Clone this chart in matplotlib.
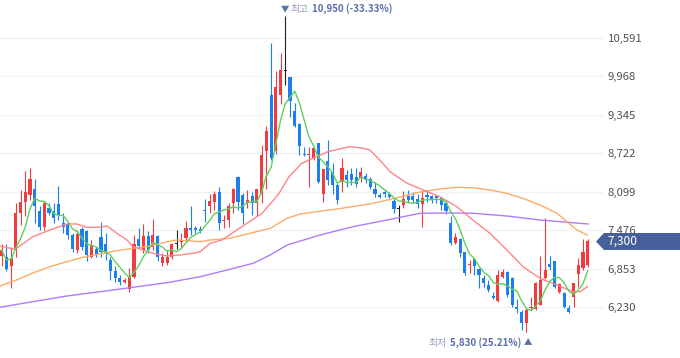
import numpy as np
import pandas as pd
import matplotlib
matplotlib.use("Agg")
import matplotlib.pyplot as plt
from matplotlib.patches import Polygon

plt.rcParams['font.family'] = ['Noto Sans CJK KR', 'DejaVu Sans']

# daily candles (oldest -> newest)
opens = [7060, 7050, 6890, 7180, 7750, 7940, 8050, 8150, 7790, 7530,
         7830, 7790, 7900, 7590, 7580, 7400, 7160, 7500, 7460, 7050,
         7170, 7360, 7250, 7000, 6820, 6710, 6640, 6520, 6720, 7330,
         7150, 7380, 7210, 7380, 6940, 6950, 7050, 7250, 7280, 7350,
         7510, 7510, 7490, 7810, 7870, 7940, 8100, 7620, 7640, 7920,
         8340, 8050, 7910, 8030, 7920, 8070, 8750, 9660, 8750, 9660,
         10050, 9950, 9400, 9190, 8710, 8690, 8640, 8880, 8070, 8590,
         8420, 8210, 8260, 8370, 8390, 8340, 8320, 8360, 8300, 8150,
         8050, 8100, 8060, 7950, 7820, 7880, 8030, 8030, 7980, 7900,
         8050, 8030, 8030, 7990, 7910, 7590, 7270, 7330, 7120, 6910,
         7010, 6850, 6700, 6590, 6410, 6330, 6720, 6800, 6700, 6230,
         6160, 5970, 6210, 6200, 6270, 6700, 6930, 6970, 6470, 6460,
         6210, 6400, 6760, 6870, 6920]
highs = [7260, 7260, 7210, 7910, 8130, 8440, 8490, 8310, 7870, 7940,
         7910, 7910, 8190, 7750, 7590, 7430, 7480, 7530, 7480, 7320,
         7210, 7610, 7430, 7050, 6890, 6750, 6700, 6860, 7400, 7510,
         7580, 7460, 7660, 7400, 7100, 7160, 7270, 7480, 7430, 7630,
         7870, 7540, 7540, 7980, 8060, 8110, 8170, 7720, 7910, 8160,
         8350, 8080, 8130, 8100, 8140, 8860, 9160, 10510, 10060, 10350,
         10950, 9960, 9530, 9210, 8830, 8830, 8830, 8890, 8470, 8940,
         8560, 8240, 8640, 8450, 8480, 8480, 8500, 8400, 8340, 8250,
         8080, 8150, 8100, 7980, 7880, 8110, 8130, 8100, 8070, 8130,
         8130, 8050, 8050, 8020, 7960, 7700, 7430, 7350, 7130, 6990,
         7020, 6860, 6750, 6670, 6480, 6830, 6850, 6820, 6720, 6370,
         6190, 6210, 6390, 6640, 7060, 7680, 7060, 6980, 6620, 6480,
         6270, 6630, 7030, 7330, 7340]
lows = [6890, 6820, 6540, 7050, 7560, 7700, 7970, 7590, 7480, 7480,
        7720, 7590, 7640, 7430, 7330, 7130, 7100, 7160, 6970, 7020,
        7050, 7050, 6990, 6670, 6640, 6590, 6620, 6480, 6700, 7180,
        7100, 7100, 7160, 6970, 6890, 6910, 7010, 7180, 7210, 7310,
        7400, 7430, 7430, 7610, 7750, 7800, 7480, 7510, 7530, 7750,
        7800, 7580, 7830, 7720, 7700, 7910, 8150, 8620, 8710, 9520,
        9830, 9300, 9150, 8690, 8670, 8180, 8610, 8235, 7940, 8210,
        8070, 7900, 8100, 8180, 8210, 8180, 8260, 8245, 8150, 8020,
        8000, 8020, 7990, 7760, 7610, 7830, 7940, 7910, 7830, 7530,
        7940, 7910, 7920, 7800, 7740, 7240, 7260, 7050, 6750, 6780,
        6750, 6540, 6560, 6480, 6360, 6320, 6700, 6400, 6240, 6130,
        5860, 5830, 6190, 6185, 6260, 6690, 6830, 6540, 6460, 6210,
        6130, 6240, 6560, 6840, 6880]
closes = [7150, 6845, 7020, 7750, 7940, 8100, 8310, 7860, 7530, 7910,
          7750, 7670, 7720, 7530, 7400, 7170, 7420, 7210, 7080, 7240,
          7080, 7130, 7100, 6820, 6700, 6640, 6670, 6720, 7260, 7220,
          7380, 7150, 7400, 7050, 7040, 7050, 7250, 7250, 7310, 7510,
          7480, 7480, 7460, 7780, 7950, 8060, 7590, 7640, 7860, 8140,
          7940, 7750, 7960, 7910, 8140, 8690, 9080, 8640, 9790, 10070,
          10050, 9560, 9160, 8840, 8690, 8710, 8800, 8260, 8460, 8290,
          8210, 7970, 8480, 8290, 8290, 8220, 8420, 8290, 8180, 8070,
          8020, 8070, 8020, 7820, 7820, 7980, 7970, 7970, 7900, 7990,
          8020, 7970, 8000, 7880, 7790, 7270, 7370, 7110, 6780, 6930,
          6900, 6750, 6620, 6510, 6380, 6750, 6800, 6430, 6270, 6200,
          5970, 6190, 6240, 6630, 6670, 6830, 6880, 6560, 6610, 6240,
          6160, 6620, 6910, 7120, 7300]

# moving averages (x in candle units, value)
ma20_x = [-0.4, 2.8, 6.6, 10.2, 13.8, 15.9, 18.0, 20.8, 22.3, 24.4, 26.5, 27.8,
          29.9, 32.0, 35.0, 37.7, 40.5, 42.0, 44.1, 46.6, 50.8, 55.1, 58.7, 60.8,
          63.5, 69.0, 73.7, 76.2, 77.9, 80.0, 82.2, 85.8, 89.2, 92.7, 96.3, 99.7,
          103.3, 106.9, 110.3, 113.9, 117.5, 120.9, 122.4, 123.9]
ma20_y = [7221, 7167, 7371, 7480, 7577, 7577, 7523, 7523, 7544, 7426, 7318, 7210,
          7156, 7102, 7059, 7075, 7102, 7129, 7264, 7318, 7533, 7750, 8073, 8342,
          8559, 8747, 8828, 8806, 8774, 8612, 8420, 8235, 8127, 8018, 7857, 7641,
          7426, 7156, 6886, 6698, 6590, 6481, 6481, 6562]
ma60_x = [-0.4, 3.2, 6.6, 10.2, 13.8, 17.2, 20.8, 24.4, 27.8, 31.4, 35.0, 37.1,
          42.0, 44.1, 48.3, 52.5, 56.8, 60.4, 63.1, 70.9, 77.9, 83.2, 88.5, 92.7,
          96.3, 99.7, 103.3, 106.9, 110.3, 113.9, 117.5, 119.6, 121.7, 123.9]
ma60_y = [6574, 6671, 6784, 6886, 6967, 7038, 7091, 7145, 7183, 7221, 7290, 7318,
          7290, 7318, 7345, 7426, 7507, 7669, 7738, 7819, 7900, 7992, 8094, 8143,
          8170, 8164, 8127, 8073, 7992, 7884, 7750, 7614, 7480, 7399]
ma120_x = [-0.4, 6.6, 13.8, 20.8, 27.8, 35.0, 42.0, 48.3, 53.2, 56.8, 60.4, 67.4,
           74.3, 81.5, 88.5, 94.9, 99.7, 106.9, 113.9, 124.1]
ma120_y = [6229, 6320, 6412, 6481, 6553, 6627, 6724, 6844, 6941, 7075, 7237, 7399,
           7533, 7641, 7750, 7755, 7750, 7706, 7641, 7577]

grid_vals = [6230, 6853, 7476, 8099, 8722, 9345, 9968, 10591]

df = pd.DataFrame({'open': opens, 'high': highs, 'low': lows, 'close': closes})
df['ma5'] = df['close'].rolling(5, min_periods=1).mean()
x = np.arange(len(df))

W, H = 680, 358
fig = plt.figure(figsize=(W / 100, H / 100), dpi=100)
ax = fig.add_axes([0, 0, 603 / W, 1])
step = 4.726
ax.set_xlim(-1.7 / step, (603 - 1.7) / step)
ax.set_ylim(11201 - 16.18 * H, 11201)

for s in ax.spines.values():
    s.set_visible(False)
ax.set_xticks([])
ax.set_yticks(grid_vals)
ax.set_yticklabels([f'{v:,}' for v in grid_vals])
ax.yaxis.tick_right()
ax.tick_params(axis='y', length=0, pad=3.5, labelsize=8.2, labelcolor='#505050')
for v in grid_vals:
    ax.axhline(v, color='#f0f2f8', lw=1, zorder=0)

# candles
cols = []
for o, c in zip(df['open'], df['close']):
    if c > o:
        cols.append('#f03c40')
    elif c < o:
        cols.append('#1c7fee')
    else:
        cols.append('#222222')
ax.vlines(x, df['low'], df['high'], colors=cols, lw=0.8, zorder=2)
body_lo = np.minimum(df['open'], df['close'])
body_h = np.maximum(np.abs(df['close'] - df['open']), 16)
ax.bar(x, body_h, bottom=body_lo, width=0.66, color=cols, lw=0, zorder=2)

# moving averages
ax.plot(ma120_x, ma120_y, color='#b07cf7', lw=1.0, zorder=3)
ax.plot(ma60_x, ma60_y, color='#ffab66', lw=1.0, zorder=3)
ax.plot(ma20_x, ma20_y, color='#ff8585', lw=1.0, zorder=3)
ax.plot(x, df['ma5'], color='#5fcf5f', lw=1.0, zorder=3)

# high / low markers
def fx(px):
    return px / W

def fy(py):
    return 1 - py / H

hi_c = '#5a6ea8'
lab_c = '#8d98bd'
fig.text(fx(281), fy(9), '▼', color=hi_c, fontsize=6, va='center', ha='left')
fig.text(fx(290), fy(9), '최고', color=lab_c, fontsize=7, va='center', ha='left')
fig.text(fx(312), fy(9), '10,950 (-33.33%)', color=hi_c, fontsize=7, fontweight='bold',
         va='center', ha='left')
fig.text(fx(428), fy(343), '최저', color=lab_c, fontsize=7, va='center', ha='left')
fig.text(fx(450), fy(343), '5,830 (25.21%)', color=hi_c, fontsize=7, fontweight='bold',
         va='center', ha='left')
fig.text(fx(524), fy(343), '▲', color=hi_c, fontsize=6, va='center', ha='left')

# current price tag
tag = Polygon([(fx(596), fy(241.5)), (fx(604), fy(233)), (fx(680), fy(233)),
               (fx(680), fy(250)), (fx(604), fy(250))],
              closed=True, transform=fig.transFigure, facecolor='#475f9b',
              edgecolor='none', zorder=5)
fig.patches.append(tag)
fig.text(fx(607), fy(241.5), f'{closes[-1]:,}', color='white', fontsize=8.6,
         va='center', ha='left', zorder=6)

fig.savefig('out.png', dpi=100)
